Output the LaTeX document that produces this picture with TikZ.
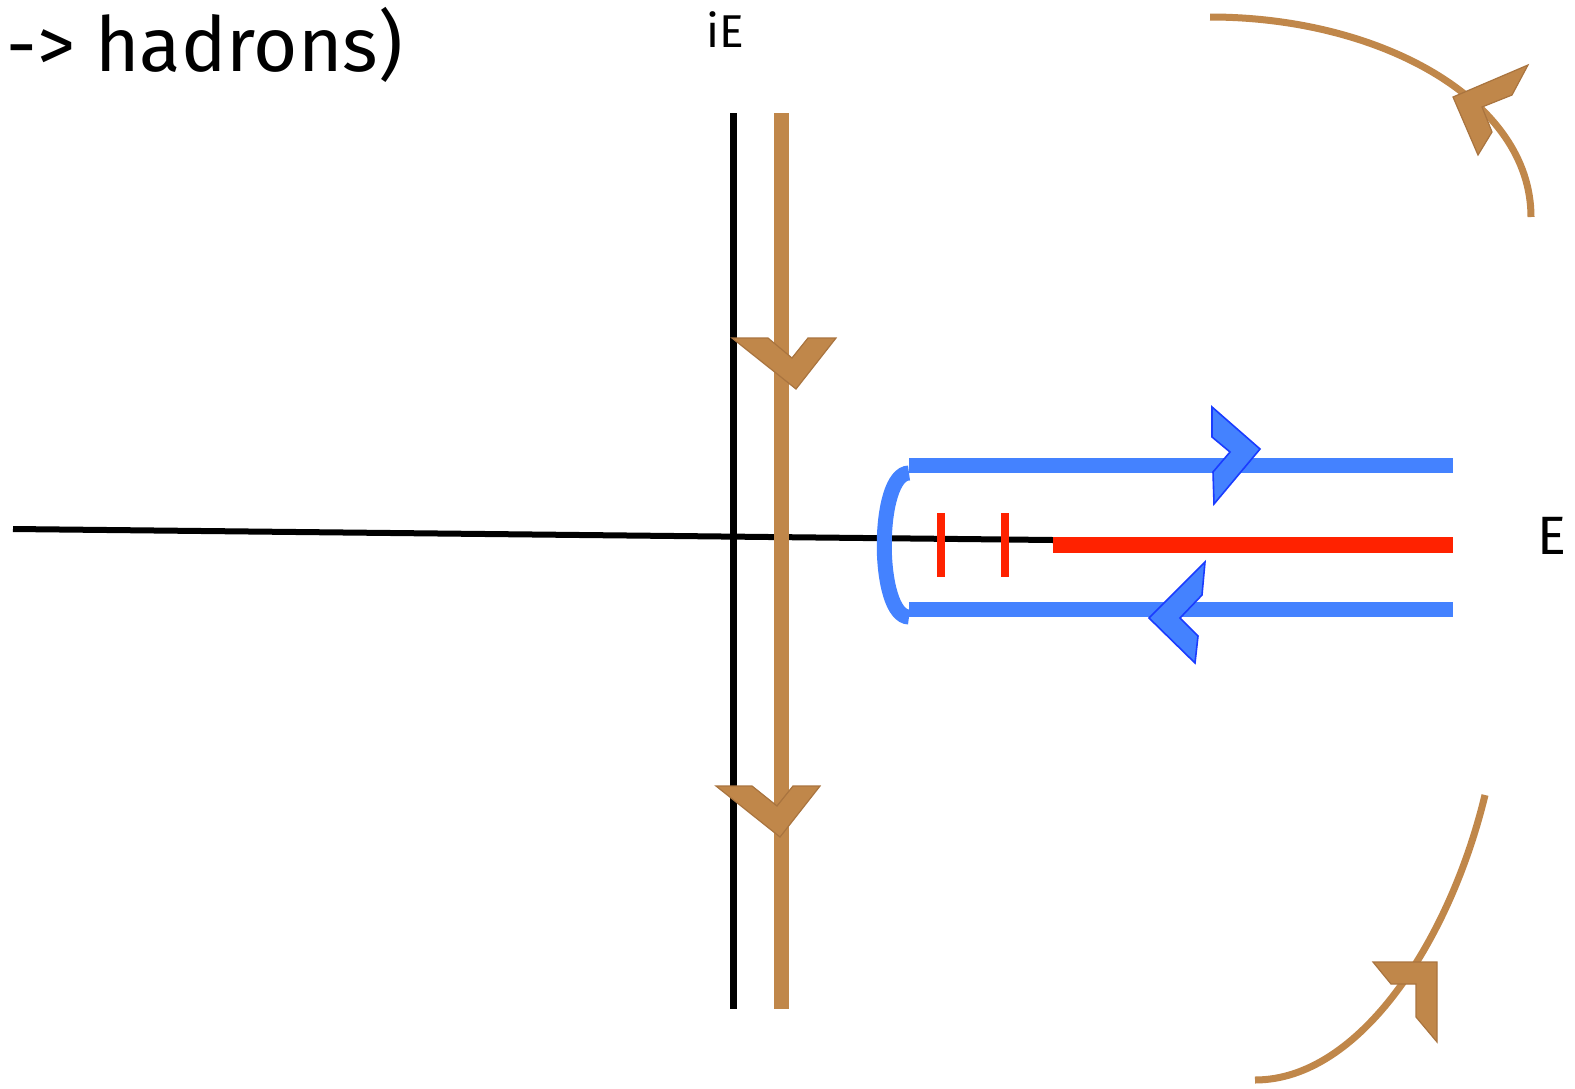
\documentclass[tikz,border=0pt]{standalone}
\usepackage{fontspec}
\setmainfont{Fira Sans}
\definecolor{brn}{HTML}{C0874A}
\definecolor{brnd}{HTML}{A9743F}
\definecolor{blu}{HTML}{4482FF}
\definecolor{blud}{HTML}{1A3CFF}
\definecolor{rd}{HTML}{FF2200}
\begin{document}
\begin{tikzpicture}[x=0.5pt,y=-0.5pt,
  brnline/.style={draw=brn,line width=7.5pt},
  brncurve/.style={draw=brn,line width=3.5pt},
  bluline/.style={draw=blu,line width=7.5pt},
  brnhead/.style={fill=brn,draw=brnd,line width=0.6pt,line join=miter},
  bluhead/.style={fill=blu,draw=blud,line width=0.8pt,line join=miter},
  lbl/.style={inner sep=0pt,text=black}]
\useasboundingbox[fill=white] (0,0) rectangle (1575,1088);
% labels
\node[lbl,anchor=base west,font=\fontsize{38}{42}\selectfont] (title) at (6,71) {-> hadrons)};
\node[lbl,font=\fontsize{23}{26}\selectfont] (iE) at (725,30) {iE};
\node[lbl,font=\fontsize{27}{30}\selectfont] (E) at (1552,536) {E};
% coordinates
\coordinate (hl) at (13,529);
\coordinate (hr) at (1053,540);
\coordinate (rl) at (1053,545);
\coordinate (rr) at (1453,545);
\coordinate (vbT) at (733,113);
\coordinate (vbB) at (733,1009);
\coordinate (vrT) at (781,113);
\coordinate (vrB) at (781,1009);
% horizontal black axis
\draw[line width=3pt] (hl) -- (hr);
% vertical lines
\draw[line width=3.5pt] (vbT) -- (vbB);
\draw[brnline] (vrT) -- (vrB);
% brown chevrons on vertical line
\path[brnhead] (732,338) -- (768,338) -- (792,358) -- (808,338) -- (836,338) -- (796,389) -- cycle;
\path[brnhead] (716,786) -- (752,786) -- (777,806) -- (793,786) -- (820,786) -- (780,837) -- cycle;
% red cut
\draw[draw=rd,line width=8pt] (rl) -- (rr);
\draw[draw=rd,line width=4pt] (941,513) -- (941,577);
\draw[draw=rd,line width=4pt] (1005,513) -- (1005,577);
% blue contour
\coordinate (bu1) at (909,465);
\coordinate (bu2) at (1453,465);
\coordinate (bd1) at (909,609.5);
\coordinate (bd2) at (1453,609.5);
\draw[bluline] (bu1) -- (bu2);
\draw[bluline] (bd1) -- (bd2);
\draw[bluline] (909,473) .. controls (876,473) and (876,617) .. (909,617);
\path[bluhead] (1212,407) -- (1260,449) -- (1214,504) -- (1213,472) -- (1230,452) -- (1212,437) -- cycle;
\path[bluhead] (1205,562) -- (1202,595) -- (1180,618) -- (1198,636) -- (1195,663) -- (1149,618) -- cycle;
% big arcs
\coordinate (a1s) at (1210,17);
\coordinate (a1e) at (1531,217);
\draw[brncurve] (a1s) .. controls (1380,17) and (1531,100) .. (a1e);
\path[brnhead] (1453,97) -- (1528,65) -- (1512,95) -- (1482,107) -- (1492,132) -- (1478,155) -- cycle;
\coordinate (a2s) at (1485,795);
\coordinate (a2e) at (1255,1080);
\draw[brncurve] (a2s) .. controls (1450,940) and (1360,1080) .. (a2e);
\path[brnhead] (1373,962) -- (1437,962) -- (1437,1042) -- (1416,1017) -- (1416,984) -- (1391,984) -- cycle;
\end{tikzpicture}
\end{document}
